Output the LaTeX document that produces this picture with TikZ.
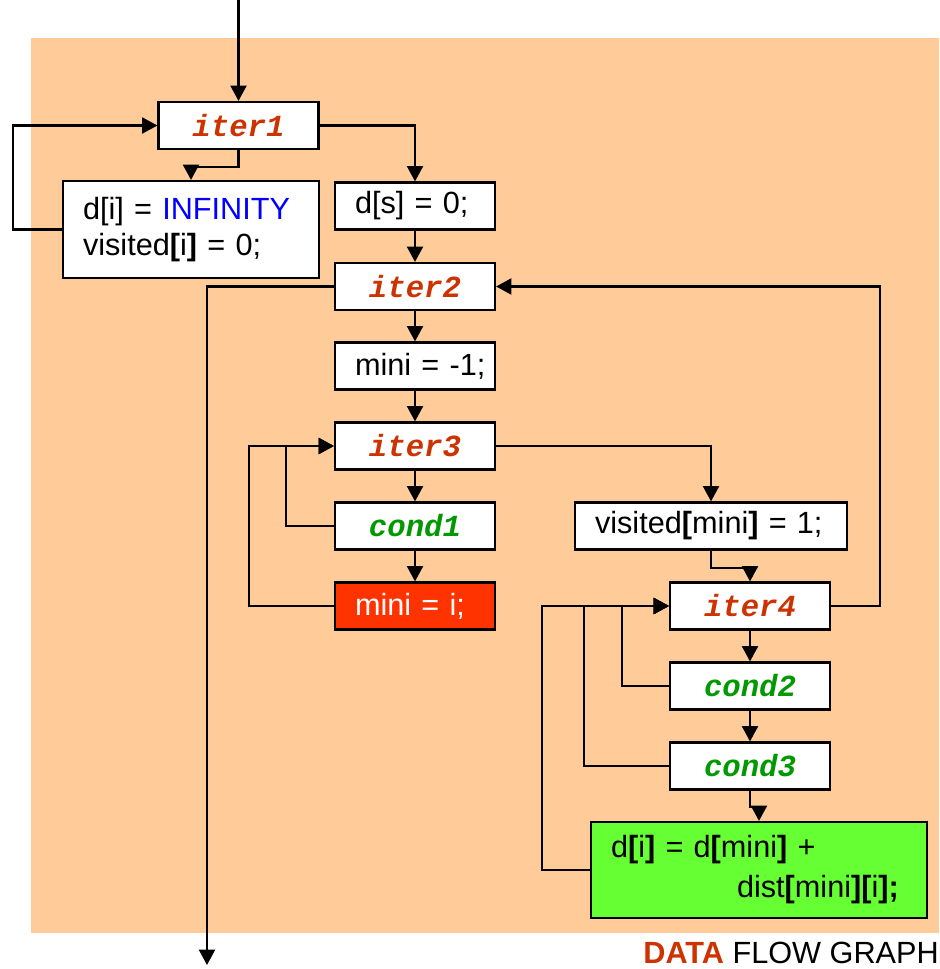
\documentclass[tikz,border=0pt]{standalone}
\usepackage{fontspec}
\setmainfont{Liberation Sans}
\newfontfamily\codefont{Liberation Mono}
\usetikzlibrary{arrows.meta}
\definecolor{panel}{RGB}{255,204,153}
\definecolor{iterred}{RGB}{204,51,0}
\definecolor{condgreen}{RGB}{0,153,0}
\definecolor{hotred}{RGB}{255,51,0}
\definecolor{limegreen}{RGB}{102,255,51}
\definecolor{infblue}{RGB}{0,0,255}
\newcommand{\bb}[1]{\textbf{#1}}
\begin{document}
\begin{tikzpicture}[x=0.75pt,y=-0.75pt,
  wire/.style={line width=1.6pt, -{Triangle[length=11.5pt,width=12pt]}},
  box/.style={draw, line width=1.6pt, fill=white, inner sep=0pt,
    minimum height=35.25pt, font=\fontsize{23}{27}\selectfont},
  tag/.style={box, minimum width=120pt,
    font=\codefont\bfseries\itshape\fontsize{23}{27}\selectfont},
  itertag/.style={tag, text=iterred},
  condtag/.style={tag, text=condgreen},
  stmt/.style={box, align=left, inner xsep=15pt},
]
\useasboundingbox (0,0) rectangle (939,969);
\fill[panel] (31,38) rectangle (939,933);

% nodes
\node[itertag] (iter1) at (238.5,125.5) {iter1};
\node[stmt, text width=162pt, minimum height=72.75pt] (dinit) at (191,229.5)
  {d[i] = \textcolor{infblue}{INFINITY}\\visited\bb{[}i\bb{]} = 0;};
\node[stmt, text width=90pt] (ds) at (415,206) {d[s] = 0;};
\node[itertag] (iter2) at (415,286.5) {iter2};
\node[stmt, text width=90pt] (mini1) at (415,366) {\mbox{mini = -1;}};
\node[itertag] (iter3) at (415,446) {iter3};
\node[condtag] (cond1) at (415,526) {cond1};
\node[stmt, text width=90pt, fill=hotred, text=white] (minii) at (415,606) {mini = i;};
\node[stmt, text width=174pt] (visit) at (711,526) {visited\bb{[}mini\bb{]} = 1;};
\node[itertag] (iter4) at (750,606) {iter4};
\node[condtag] (cond2) at (750,686) {cond2};
\node[condtag] (cond3) at (750,766) {cond3};
\node[stmt, text width=222pt, minimum height=72pt, fill=limegreen,
  font=\fontsize{23}{30}\selectfont] (relax) at (759,870)
  {d\bb{[}i\bb{]} = d\bb{[}mini\bb{]} +\\\hspace*{94.5pt}dist\bb{[}mini\bb{][}i\bb{];}};

\coordinate (entry) at (238.5,0);
\coordinate (exit) at (207,965);

% connectors
\draw[wire] (entry) -- (iter1);
\draw[wire] (iter1.south) -- ++(0,17) -| (dinit.north);
\draw[wire] (dinit.west) -- ++(-49,0) |- (iter1.west);
\draw[wire] (iter1.east) -| (ds.north);
\draw[wire] (ds) -- (iter2);
\draw[wire] (iter2.west) -| (exit);
\draw[wire] (iter2) -- (mini1);
\draw[wire] (mini1) -- (iter3);
\draw[wire] (iter3) -- (cond1);
\draw[wire] (cond1) -- (minii);
\draw[wire] (cond1.west) -- ++(-48,0) |- (iter3.west);
\draw[wire] (minii.west) -- ++(-85,0) |- (iter3.west);
\draw[wire] (iter3.east) -| (visit.north);
\draw[wire] (visit.south) -- ++(0,17) -| (iter4.north);
\draw[wire] (iter4.east) -- ++(49,0) |- (iter2.east);
\draw[wire] (iter4) -- (cond2);
\draw[wire] (cond2) -- (cond3);
\draw[wire] (cond3.south) -- ++(0,16) -| (relax.north);
\draw[wire] (cond2.west) -- ++(-47,0) |- (iter4.west);
\draw[wire] (cond3.west) -- ++(-85,0) |- (iter4.west);
\draw[wire] (relax.west) -- ++(-48,0) |- (iter4.west);

\node[anchor=base east, inner sep=0pt, font=\fontsize{23}{27}\selectfont] (caption) at (939,963)
  {\textbf{\textcolor{iterred}{DATA}} FLOW GRAPH};
\end{tikzpicture}
\end{document}
